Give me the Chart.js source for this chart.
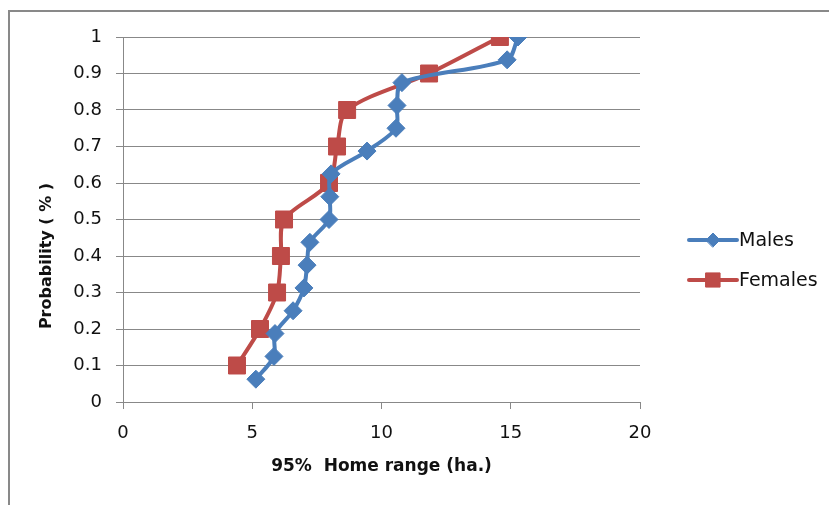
<!DOCTYPE html>
<html>
<head>
<meta charset="utf-8">
<script src="https://cdn.jsdelivr.net/npm/chart.js@4.4.1/dist/chart.umd.min.js"></script>
<style>
    html, body {margin: 0; padding: 0; background: #fff;}
    #chart {display: block;}
</style>
</head>
<body>
<canvas id="chart" width="829" height="505"></canvas>
<script>
// 95% home range (ha.) against cumulative probability
const maleRange = [5.14, 5.84, 5.88, 6.58, 7.0, 7.12, 7.23, 7.97, 8.0, 8.05, 9.44, 10.56, 10.6, 10.79, 14.86, 15.28];
const maleProb = [0.0625, 0.125, 0.1875, 0.25, 0.3125, 0.375, 0.4375, 0.5, 0.5625, 0.625, 0.6875, 0.75, 0.8125, 0.875, 0.9375, 1.0];
const femaleRange = [4.41, 5.3, 5.96, 6.11, 6.23, 7.97, 8.28, 8.67, 11.84, 14.58];
const femaleProb = [0.1, 0.2, 0.3, 0.4, 0.5, 0.6, 0.7, 0.8, 0.9, 1.0];
const seriesNames = ['Males', 'Females'];

const FONT = '"DejaVu Sans", sans-serif';
const BLUE = '#4a7ebb',
    RED = '#be4b48',
    GRID = '#888888',
    TEXT = '#111111';

const toPoints = (xs, ys) => xs.map((x, i) => ({x, y: ys[i]}));

// chart frame, line+marker legend at the right and the y title
const decorations = {
    id: 'decorations',
    beforeDraw(chart) {
        const ctx = chart.ctx;
        ctx.save();
        ctx.fillStyle = '#898989';
        ctx.fillRect(8, 10, chart.width, 2);
        ctx.fillRect(8, 10, 2, chart.height);
        ctx.restore();
    },
    afterDraw(chart) {
        const ctx = chart.ctx;
        ctx.save();
        chart.data.datasets.forEach((ds, i) => {
            const y = 240 + i * 40;
            ctx.strokeStyle = ds.borderColor;
            ctx.lineWidth = 4;
            ctx.lineCap = 'round';
            ctx.beginPath();
            ctx.moveTo(689, y);
            ctx.lineTo(737, y);
            ctx.stroke();
            ctx.fillStyle = ds.backgroundColor;
            ctx.lineWidth = 1;
            Chart.helpers.drawPoint(ctx, {
                pointStyle: ds.pointStyle,
                radius: ds.pointStyle === 'rect' ? 10 : 7,
                borderWidth: 1
            }, 713, y);
            ctx.fillStyle = TEXT;
            ctx.font = '19px ' + FONT;
            ctx.textBaseline = 'middle';
            ctx.textAlign = 'left';
            ctx.fillText(ds.label, 739, y + 1);
        });

        // y title sits a little below the middle of the axis
        ctx.translate(47, 256);
        ctx.rotate(-Math.PI / 2);
        ctx.fillStyle = TEXT;
        ctx.font = 'bold 16px ' + FONT;
        ctx.textAlign = 'center';
        ctx.textBaseline = 'middle';
        ctx.fillText('Probability ( % )', 0, 0);
        ctx.restore();
    }
};

new Chart(document.getElementById('chart'), {
    type: 'line',
    data: {
        datasets: [{
            label: seriesNames[0],
            data: toPoints(maleRange, maleProb),
            borderColor: BLUE,
            backgroundColor: BLUE,
            borderWidth: 4,
            pointStyle: 'rectRot',
            pointRadius: 9,
            pointBorderWidth: 1,
            tension: 0.3,
            fill: false
        }, {
            label: seriesNames[1],
            data: toPoints(femaleRange, femaleProb),
            borderColor: RED,
            backgroundColor: RED,
            borderWidth: 4,
            pointStyle: 'rect',
            pointRadius: 12,
            pointBorderWidth: 1,
            tension: 0.3,
            fill: false
        }]
    },
    options: {
        responsive: false,
        animation: false,
        layout: {
            padding: {top: 37, right: 189, left: 0, bottom: 0}
        },
        plugins: {
            legend: {display: false},
            tooltip: {enabled: false}
        },
        scales: {
            x: {
                type: 'linear',
                min: 0,
                max: 20,
                afterFit: s => { s.height = 103; },
                ticks: {
                    stepSize: 5,
                    padding: 14,
                    color: TEXT,
                    font: {family: FONT, size: 18}
                },
                grid: {
                    drawOnChartArea: false,
                    drawTicks: true,
                    tickLength: 7,
                    color: GRID
                },
                border: {color: GRID, width: 1},
                title: {
                    display: true,
                    text: '95%  Home range (ha.)',
                    color: TEXT,
                    font: {family: FONT, size: 17, weight: 'bold'},
                    padding: {top: 0, bottom: 28}
                }
            },
            y: {
                min: 0,
                max: 1,
                afterFit: s => { s.width = 123; },
                ticks: {
                    stepSize: 0.1,
                    padding: 14,
                    color: TEXT,
                    font: {family: FONT, size: 18},
                    callback: v => String(Number(v.toFixed(1)))
                },
                grid: {
                    tickLength: 7,
                    color: GRID
                },
                border: {color: GRID, width: 1}
            }
        }
    },
    plugins: [decorations]
});
</script>
</body>
</html>
